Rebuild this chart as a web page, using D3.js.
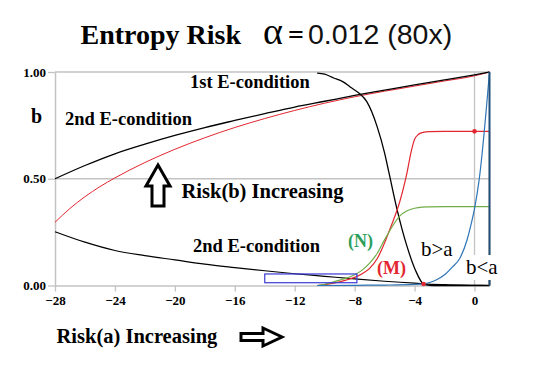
<!DOCTYPE html>
<html><head><meta charset="utf-8">
<script src="https://cdn.jsdelivr.net/npm/d3@7"></script>
<style>body{margin:0;background:#fff}svg{display:block}</style>
</head><body><div id="chart"></div>
<script>
// ---- data ----
const xTicks = [-28, -24, -20, -16, -12, -8, -4, 0];
const yTicks = [0, 0.5, 1];

const upperBlackX = [-28, -26, -24, -22, -20, -18, -16, -14, -12, -10, -8, -6, -4, -2, 0, 1];
const upperBlackY = [0.5, 0.562, 0.617, 0.662, 0.703, 0.74, 0.773, 0.805, 0.836, 0.863, 0.89, 0.915, 0.94, 0.963, 0.987, 1.0];

const upperRedX = [-28, -27, -26, -25, -24, -22, -20, -18, -16, -14, -12, -10, -8, -6, -4, -2, 0, 1];
const upperRedY = [0.296, 0.361, 0.416, 0.463, 0.504, 0.576, 0.638, 0.692, 0.74, 0.782, 0.82, 0.854, 0.884, 0.91, 0.934, 0.958, 0.982, 1.0];

const lowerBlackX = [-28, -26, -24, -22, -20, -18, -16, -14, -12, -10, -8, -6, -4, -3.4, -2, 0, 1];
const lowerBlackY = [0.252, 0.203, 0.164, 0.14, 0.12, 0.1, 0.084, 0.069, 0.055, 0.043, 0.031, 0.02, 0.011, 0.008, 0.004, 0.001, 0];

const firstEX = [-10.5, -10, -9.4, -8.8, -8.3, -7.7, -7.2, -6.5, -6, -5.7, -5.2, -4.5, -3.95, -3.4, -3, -2.5, 1];
const firstEY = [0.995, 0.99, 0.972, 0.955, 0.93, 0.9, 0.862, 0.744, 0.62, 0.525, 0.365, 0.182, 0.073, 0.007, 0.001, 0, 0];

const mX = [-10.5, -10, -9.5, -9, -8.5, -8, -7.5, -7, -6.5, -6, -5.75, -5.5, -5, -4.75, -4.5, -4.25, -4, -3.75, -3.5, -3, -2, 0, 1];
const mY = [0, 0.004, 0.01, 0.017, 0.027, 0.038, 0.055, 0.08, 0.125, 0.2, 0.245, 0.29, 0.39, 0.455, 0.53, 0.62, 0.685, 0.707, 0.716, 0.721, 0.722, 0.722, 0.722];

const nX = [-10.5, -10, -9.5, -9, -8.5, -8, -7.5, -7, -6.5, -6, -5.75, -5.5, -5, -4.5, -4, -3.5, -3, -2, 1];
const nY = [0, 0.006, 0.015, 0.025, 0.036, 0.05, 0.072, 0.105, 0.15, 0.215, 0.245, 0.275, 0.325, 0.35, 0.362, 0.367, 0.368, 0.369, 0.369];

const blueX = [-10.5, -8, -6, -4, -3.4, -3, -2.5, -2, -1.5, -1, -0.5, -0.25, 0, 0.3, 1];
const blueY = [0, 0.001, 0.002, 0.005, 0.008, 0.014, 0.028, 0.05, 0.085, 0.125, 0.213, 0.28, 0.36, 0.49, 1.0];

const markerX = [-3.4, 0];
const markerY = [0.007, 0.722];

const boxX = [-14, -7.85];
const boxY = [0.054, 0.013];

// ---- drawing ----
const W = 537, H = 371;
const svg = d3.select('#chart').append('svg').attr('width', W).attr('height', H);
svg.append('rect').attr('width', W).attr('height', H).attr('fill', '#fff');

const x = d3.scaleLinear().domain([-28, 1]).range([55, 489.5]);
const y = d3.scaleLinear().domain([0, 1]).range([285.5, 72]);
const serif = 'Liberation Serif, Times New Roman, serif';
const grid = '#c3c3c3';

// gridlines
svg.append('g').selectAll('line').data([0.5, 1]).join('line')
  .attr('x1', x(-28)).attr('x2', x(1)).attr('y1', d => y(d)).attr('y2', d => y(d))
  .attr('stroke', grid).attr('stroke-width', 1.3);
svg.append('line').attr('x1', x(0)).attr('x2', x(0)).attr('y1', y(0)).attr('y2', y(1))
  .attr('stroke', grid).attr('stroke-width', 1.3);

// axes
const xAxis = svg.append('g').attr('transform', `translate(0,${y(0)})`)
  .call(d3.axisBottom(x).tickValues(xTicks).tickSize(6).tickSizeOuter(0).tickPadding(4).tickFormat(d3.format('d')));
xAxis.select('.domain').attr('stroke', grid).attr('stroke-width', 1.5);
xAxis.selectAll('.tick line').attr('stroke', grid).attr('stroke-width', 1.3);
xAxis.attr('font-family', serif).attr('font-size', 13).attr('font-weight', 'bold');
xAxis.selectAll('.tick text').attr('fill', '#000');

const yAxis = svg.append('g').attr('transform', `translate(${x(-28)},0)`)
  .call(d3.axisLeft(y).tickValues(yTicks).tickSize(7).tickSizeOuter(0).tickPadding(2).tickFormat(d3.format('.2f')));
yAxis.select('.domain').attr('stroke', grid).attr('stroke-width', 1.5);
yAxis.selectAll('.tick line').attr('stroke', grid).attr('stroke-width', 1.3);
yAxis.attr('font-family', serif).attr('font-size', 13).attr('font-weight', 'bold');
yAxis.selectAll('.tick text').attr('fill', '#000');

const zip = (xs, ys) => xs.map((v, i) => [v, ys[i]]);
const curve = d3.line().x(d => x(d[0])).y(d => y(d[1])).curve(d3.curveMonotoneX);
const straight = d3.line().x(d => x(d[0])).y(d => y(d[1]));

function series(xs, ys, color, w, dropTo) {
  svg.append('path').attr('d', curve(zip(xs, ys))).attr('fill', 'none')
    .attr('stroke', color).attr('stroke-width', w);
  if (dropTo !== undefined) {
    const lx = xs[xs.length - 1], ly = ys[ys.length - 1];
    svg.append('path').attr('d', straight([[lx, ly], [lx, dropTo]])).attr('fill', 'none')
      .attr('stroke', color).attr('stroke-width', w);
  }
}

const red = '#e3262f', green = '#70ad47', blue = '#2e75b6', navy = '#1f4e79';

series(upperRedX, upperRedY, red, 1);
series(upperBlackX, upperBlackY, '#000', 1.3);
series(lowerBlackX, lowerBlackY, '#000', 1.2);
series(firstEX, firstEY, '#000', 1.3, 0.06);
series(mX, mY, red, 1.2, 0);
series(nX, nY, green, 1.2, 0);
series(blueX, blueY, blue, 1.2);
svg.append('path').attr('d', straight([[blueX[blueX.length - 1], blueY[blueY.length - 1]], [blueX[blueX.length - 1], 0]]))
  .attr('stroke', navy).attr('stroke-width', 2).attr('fill', 'none');

// markers
svg.append('g').selectAll('circle').data(zip(markerX, markerY)).join('circle')
  .attr('cx', d => x(d[0])).attr('cy', d => y(d[1])).attr('r', 2.3).attr('fill', red);

// blue box annotation
svg.append('rect').attr('x', x(boxX[0])).attr('y', y(boxY[0]))
  .attr('width', x(boxX[1]) - x(boxX[0])).attr('height', y(boxY[1]) - y(boxY[0]))
  .attr('fill', 'none').attr('stroke', '#3b3bd6').attr('stroke-width', 1.2);

// labels
function label(t, px, py, size, opts = {}) {
  return svg.append('text').attr('x', px).attr('y', py).text(t)
    .attr('font-family', opts.family || serif).attr('font-size', size)
    .attr('font-weight', opts.weight || 'bold').attr('fill', opts.fill || '#000');
}
label('1st E-condition', 190, 87.5, 18.5);
label('b', 31, 123, 20);
label('2nd E-condition', 65, 125, 18.5);
label('Risk(b) Increasing', 181.5, 198, 20.5);
label('2nd E-condition', 193, 251.5, 18.5);
label('(N)', 348, 246.5, 18, {fill: '#2e9e5b'});
label('(M)', 377, 273.5, 18, {fill: red});
label('b>a', 421, 256, 21, {weight: 'normal'});
svg.append('rect').attr('x', 464).attr('y', 255).attr('width', 35).attr('height', 25).attr('fill', '#fff');
label('b<a', 466, 273.5, 21, {weight: 'normal'});
label('Risk(a) Increasing', 56.5, 343, 20.5);

// title
label('Entropy Risk', 80.5, 44, 28);
label('α', 263, 44, 38, {weight: 'normal'});
label('=', 288, 44, 28);
label('0.012 (80x)', 308, 44, 28.5, {weight: 'normal', family: 'Liberation Sans, Arial, sans-serif', fill: '#111'});

// arrows
const up = [[158,165],[170,186],[164,186],[164,206],[152,206],[152,186],[146,186]];
const right = [[241,333.5],[263,333.5],[263,328],[282,337],[263,346],[263,340.5],[241,340.5]];
[up, right].forEach(p => svg.append('polygon').attr('points', p.map(q => q.join(',')).join(' '))
  .attr('fill', '#fff').attr('stroke', '#000').attr('stroke-width', 3).attr('stroke-linejoin', 'miter'));
</script></body></html>
